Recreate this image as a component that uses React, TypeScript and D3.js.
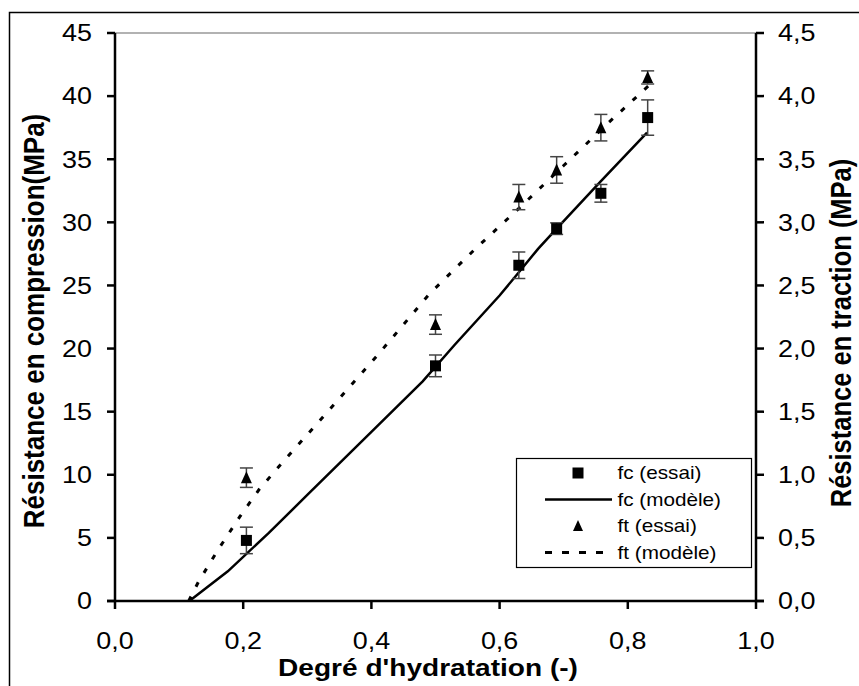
import React, { useEffect, useRef } from 'react';
import * as d3 from 'd3';

// Degré d'hydratation of the tested samples
const essaiX = [0.205, 0.5, 0.63, 0.689, 0.758, 0.831];
// fc (essai) in MPa, with half error bars
const fcEssai = [4.8, 18.63, 26.6, 29.5, 32.3, 38.3];
const fcErr = [1.05, 0.86, 1.05, 0.46, 0.7, 1.4];
// ft (essai) in MPa, with half error bars
const ftEssai = [0.977, 2.19, 3.2, 3.415, 3.75, 4.148];
const ftErr = [0.077, 0.077, 0.1, 0.105, 0.105, 0.052];

// fc (modèle)
const fcModelX = [0.116, 0.176, 0.24, 0.3, 0.4, 0.48, 0.53, 0.6, 0.631, 0.66, 0.689, 0.757, 0.83];
const fcModelY = [0, 2.35, 5.4, 8.4, 13.4, 17.4, 20.3, 24.2, 26.1, 27.9, 29.5, 33.2, 37.1];
// ft (modèle)
const ftModelX = [0.115, 0.13, 0.16, 0.195, 0.225, 0.26, 0.33, 0.41, 0.49, 0.56, 0.63, 0.7, 0.77, 0.832];
const ftModelY = [0, 0.15, 0.4, 0.67, 0.885, 1.09, 1.49, 1.95, 2.43, 2.78, 3.11, 3.45, 3.79, 4.08];

const xTicks = [0, 0.2, 0.4, 0.6, 0.8, 1.0];
const leftTicks = [0, 5, 10, 15, 20, 25, 30, 35, 40, 45];
const rightTicks = [0, 0.5, 1, 1.5, 2, 2.5, 3, 3.5, 4, 4.5];
const legendLabels = ['fc (essai)', 'fc (modèle)', 'ft (essai)', 'ft (modèle)'];

const FONT = '"Liberation Sans", Arial, sans-serif';
const SX = 1.17; // source picture is stretched horizontally
const fmt = (v: number) => v.toFixed(1).replace('.', ',');

export default function App() {
  const svgRef = useRef<SVGSVGElement>(null);

  useEffect(() => {
    const svg = d3.select(svgRef.current);
    svg.selectAll('*').remove();

    const x = d3.scaleLinear().domain([0, 1]).range([115, 756]);
    const yL = d3.scaleLinear().domain([0, 45]).range([601, 33]);
    const yR = d3.scaleLinear().domain([0, 4.5]).range([601, 33]);

    // outer frame (cropped on right / bottom)
    svg.append('rect')
      .attr('x', 9.5).attr('y', 12.5).attr('width', 900).attr('height', 700)
      .attr('fill', 'none').attr('stroke', '#000').attr('stroke-width', 1.5);

    // top border of plot area
    svg.append('line')
      .attr('x1', x(0)).attr('x2', x(1)).attr('y1', yL(45)).attr('y2', yL(45))
      .attr('stroke', '#999').attr('stroke-width', 1.5);

    const label = (tx: number, ty: number, txt: string, anchor: string, size: number, bold = false, rot = false, dy = '0') =>
      svg.append('text')
        .attr('transform', `translate(${tx},${ty}) scale(${SX},1)${rot ? ' rotate(-90)' : ''}`)
        .attr('text-anchor', anchor)
        .attr('dy', dy)
        .attr('font-family', FONT)
        .attr('font-size', size)
        .attr('font-weight', bold ? 'bold' : 'normal')
        .attr('fill', '#000')
        .text(txt);

    // axes
    const ax = svg.append('g').attr('stroke', '#000').attr('stroke-width', 2.5);
    ax.append('line').attr('x1', x(0)).attr('x2', x(0)).attr('y1', yL(0) + 1).attr('y2', yL(45));
    ax.append('line').attr('x1', x(1)).attr('x2', x(1)).attr('y1', yL(0) + 1).attr('y2', yL(45));
    ax.append('line').attr('x1', x(0) - 8).attr('x2', x(1) + 8).attr('y1', yL(0)).attr('y2', yL(0));

    leftTicks.forEach(t => {
      ax.append('line').attr('x1', x(0) - 8).attr('x2', x(0)).attr('y1', yL(t)).attr('y2', yL(t));
      label(92, yL(t), String(t), 'end', 23, false, false, '0.36em');
    });
    rightTicks.forEach(t => {
      ax.append('line').attr('x1', x(1)).attr('x2', x(1) + 8).attr('y1', yR(t)).attr('y2', yR(t));
      label(778, yR(t), fmt(t), 'start', 23, false, false, '0.36em');
    });
    xTicks.forEach(t => {
      ax.append('line').attr('x1', x(t)).attr('x2', x(t)).attr('y1', yL(0)).attr('y2', yL(0) + 8);
      label(x(t), 649, fmt(t), 'middle', 23);
    });

    label(428, 676, "Degré d'hydratation (-)", 'middle', 24, true);
    label(43.5, 321, 'Résistance en compression(MPa)', 'middle', 26, true, true);
    label(851, 333, 'Résistance en traction (MPa)', 'middle', 25.5, true, true);

    // model curves
    const fcLine = d3.line<number>().x((_, i) => x(fcModelX[i])).y(d => yL(d));
    const ftLine = d3.line<number>().x((_, i) => x(ftModelX[i])).y(d => yR(d));
    svg.append('path').datum(ftModelY).attr('d', ftLine)
      .attr('fill', 'none').attr('stroke', '#000').attr('stroke-width', 3)
      .attr('stroke-dasharray', '5,11');
    svg.append('path').datum(fcModelY).attr('d', fcLine)
      .attr('fill', 'none').attr('stroke', '#000').attr('stroke-width', 2.5);

    // error bars
    const err = svg.append('g').attr('stroke', '#444').attr('stroke-width', 1.5);
    const errBar = (cx: number, lo: number, hi: number) => {
      err.append('line').attr('x1', cx).attr('x2', cx).attr('y1', lo).attr('y2', hi);
      err.append('line').attr('x1', cx - 6.5).attr('x2', cx + 6.5).attr('y1', lo).attr('y2', lo);
      err.append('line').attr('x1', cx - 6.5).attr('x2', cx + 6.5).attr('y1', hi).attr('y2', hi);
    };
    essaiX.forEach((v, i) => {
      errBar(x(v), yL(fcEssai[i] - fcErr[i]), yL(fcEssai[i] + fcErr[i]));
      errBar(x(v), yR(ftEssai[i] - ftErr[i]), yR(ftEssai[i] + ftErr[i]));
    });

    // markers
    const square = (cx: number, cy: number, s = 11) =>
      svg.append('rect').attr('x', cx - s / 2).attr('y', cy - s / 2).attr('width', s).attr('height', s).attr('fill', '#000');
    const triangle = (cx: number, cy: number, s = 11) =>
      svg.append('path')
        .attr('d', `M${cx},${cy - s / 2 - 1}L${cx + s / 2},${cy + s / 2}L${cx - s / 2},${cy + s / 2}Z`)
        .attr('fill', '#000');
    essaiX.forEach((v, i) => {
      square(x(v), yL(fcEssai[i]));
      triangle(x(v), yR(ftEssai[i]));
    });

    // legend
    const lg = svg.append('g');
    lg.append('rect').attr('x', 516.5).attr('y', 458.5).attr('width', 235).attr('height', 109)
      .attr('fill', '#fff').attr('stroke', '#000').attr('stroke-width', 1.2);
    const rowY = d3.scaleLinear().domain([0, 3]).range([473, 552.5]);
    legendLabels.forEach((t, i) => {
      const cy = rowY(i);
      label(617.5, cy, t, 'start', 17.7, false, false, '0.36em');
      if (i === 0) square(578, cy, 11);
      if (i === 2) triangle(578, cy, 10);
      if (i === 1 || i === 3) {
        lg.append('line').attr('x1', 545).attr('x2', 612).attr('y1', cy).attr('y2', cy)
          .attr('stroke', '#000').attr('stroke-width', i === 1 ? 2.5 : 3)
          .attr('stroke-dasharray', i === 1 ? null : '7,10');
      }
    });
  }, []);

  return (
    <svg
      ref={svgRef}
      width={859}
      height={686}
      style={{ position: 'absolute', left: 0, top: 0, display: 'block', background: '#fff' }}
    />
  );
}
